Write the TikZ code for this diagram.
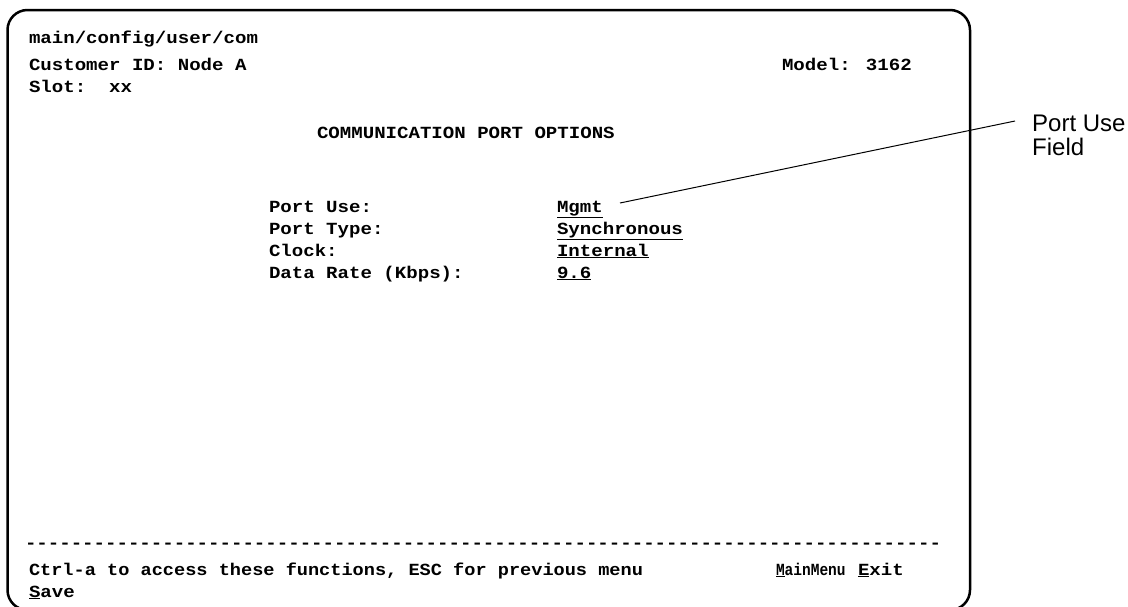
\documentclass[tikz,border=0pt]{standalone}
\usepackage{fontspec}
\newfontfamily\scrfont{Liberation Mono}[FakeStretch=1.1225]
\newfontfamily\lblfont{Liberation Sans}
\ExplSyntaxOn
\NewDocumentCommand\dashrow{m}{\prg_replicate:nn{#1}{-{}}}
\ExplSyntaxOff
\begin{document}
\begin{tikzpicture}[x=1pt,y=-1pt,
  term/.style={font=\scrfont\bfseries\fontsize{17}{21}\selectfont, anchor=base west, inner sep=0pt, outer sep=0pt},
  callout/.style={font=\lblfont\fontsize{24}{25}\selectfont, anchor=base west, inner sep=0pt},
  screen/.style={line width=2.5pt, rounded corners=20pt},
  leader/.style={line width=1pt}]
\useasboundingbox (0,0) rectangle (1128,606);
\draw[screen] (7.5,10) rectangle (970,610);

\node[term] (path)  at (29,43)  {main/config/user/com};
\node[term] (cust)  at (29,70)  {Customer ID: Node A};
\node[term] (model) at (782,70) {Model: 3162};
\node[term] (slot)  at (29,92)  {Slot:\ \ xx};
\node[term] (title) at (317,138) {COMMUNICATION PORT OPTIONS};

\node[term] (l1) at (269,212) {Port Use:};
\node[term] (l2) at (269,234) {Port Type:};
\node[term] (l3) at (269,256) {Clock:};
\node[term] (l4) at (269,278) {Data Rate (Kbps):};
\node[term] (mgmt) at (557,212) {\underline{Mgmt}};
\node[term] (v2) at (557,234) {\underline{Synchronous}};
\node[term] (v3) at (557,256) {\underline{Internal}};
\node[term] (v4) at (557,278) {\underline{9.6}};

\node[term] (dash) at (25,548) {\dashrow{80}};
\node[term] (ctrl) at (29,575) {\scalebox{0.975}[1]{Ctrl-a to access these functions, ESC for previous menu}};
\node[term] (mm) at (776,575) {\scalebox{0.76}[1]{\underline{M}ainMenu}};
\node[term] (ex) at (858,575) {\underline{E}xit};
\node[term] (save) at (29,597) {\underline{S}ave};

\node[callout] (pu) at (1032,131) {Port Use};
\node[callout] (fld) at (1032,155) {Field};
\coordinate (lineR) at (1015,121);
\coordinate (lineL) at (620,203);
\draw[leader] (lineR) -- (lineL);
\end{tikzpicture}
\end{document}
